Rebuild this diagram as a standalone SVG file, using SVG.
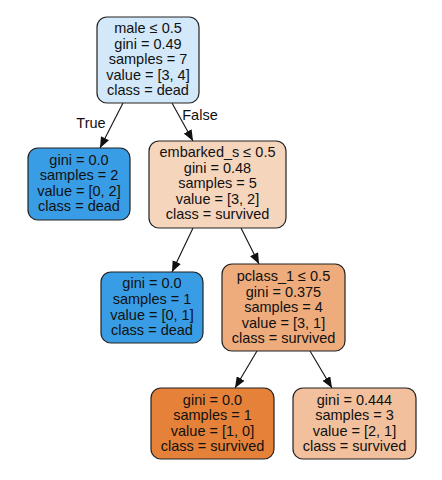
<svg xmlns="http://www.w3.org/2000/svg" width="442" height="480" viewBox="0 0 442 480">
<style>
  .box { stroke: #222; stroke-width: 1.2; }
  text { font-family: "Liberation Sans", Arial, sans-serif; font-size: 14.5px; fill: #111; text-anchor: middle; }
  .edge { stroke: #111; stroke-width: 1.1; fill: none; }
</style>
<defs>
  <marker id="arr" markerUnits="userSpaceOnUse" markerWidth="11" markerHeight="9" refX="11" refY="4.5" orient="auto">
    <path d="M0,0 L11,4.5 L0,9 z" fill="#111"/>
  </marker>
</defs>
<rect width="442" height="480" fill="#fff"/>
<g id="edges">
  <line class="edge" x1="123" y1="103" x2="100" y2="148" marker-end="url(#arr)"/>
  <line class="edge" x1="172" y1="103" x2="193" y2="141" marker-end="url(#arr)"/>
  <line class="edge" x1="193" y1="228" x2="172" y2="272" marker-end="url(#arr)"/>
  <line class="edge" x1="241" y1="228" x2="259" y2="264" marker-end="url(#arr)"/>
  <line class="edge" x1="257" y1="351" x2="235" y2="388" marker-end="url(#arr)"/>
  <line class="edge" x1="310" y1="351" x2="332" y2="388" marker-end="url(#arr)"/>
  <text x="91" y="128">True</text>
  <text x="200" y="120">False</text>
</g>
<g id="node0">
  <rect class="box" x="97" y="17" width="102" height="86" rx="10" fill="#d3e8f9"/>
  <text x="148" y="33">male ≤ 0.5</text>
  <text x="148" y="48.5">gini = 0.49</text>
  <text x="148" y="64">samples = 7</text>
  <text x="148" y="80">value = [3, 4]</text>
  <text x="148" y="95">class = dead</text>
</g>
<g id="node1">
  <rect class="box" x="28" y="148" width="102" height="72" rx="10" fill="#399de5"/>
  <text x="79" y="165">gini = 0.0</text>
  <text x="79" y="180">samples = 2</text>
  <text x="79" y="196">value = [0, 2]</text>
  <text x="79" y="211">class = dead</text>
</g>
<g id="node2">
  <rect class="box" x="149" y="141" width="137" height="87" rx="10" fill="#f6d5bd"/>
  <text x="217.5" y="157">embarked_s ≤ 0.5</text>
  <text x="217.5" y="172.5">gini = 0.48</text>
  <text x="217.5" y="188">samples = 5</text>
  <text x="217.5" y="204">value = [3, 2]</text>
  <text x="217.5" y="219">class = survived</text>
</g>
<g id="node3">
  <rect class="box" x="101" y="272" width="102" height="71" rx="10" fill="#399de5"/>
  <text x="152" y="288">gini = 0.0</text>
  <text x="152" y="304">samples = 1</text>
  <text x="152" y="320">value = [0, 1]</text>
  <text x="152" y="335">class = dead</text>
</g>
<g id="node4">
  <rect class="box" x="222" y="264" width="123" height="87" rx="10" fill="#eeab7b"/>
  <text x="283.5" y="281">pclass_1 ≤ 0.5</text>
  <text x="283.5" y="297">gini = 0.375</text>
  <text x="283.5" y="312">samples = 4</text>
  <text x="283.5" y="328">value = [3, 1]</text>
  <text x="283.5" y="343">class = survived</text>
</g>
<g id="node5">
  <rect class="box" x="151" y="388" width="123" height="71" rx="10" fill="#e58139"/>
  <text x="212.5" y="405">gini = 0.0</text>
  <text x="212.5" y="420">samples = 1</text>
  <text x="212.5" y="436">value = [1, 0]</text>
  <text x="212.5" y="451">class = survived</text>
</g>
<g id="node6">
  <rect class="box" x="293" y="388" width="123" height="71" rx="10" fill="#f2c09c"/>
  <text x="354.5" y="405">gini = 0.444</text>
  <text x="354.5" y="420">samples = 3</text>
  <text x="354.5" y="436">value = [2, 1]</text>
  <text x="354.5" y="451">class = survived</text>
</g>
</svg>
